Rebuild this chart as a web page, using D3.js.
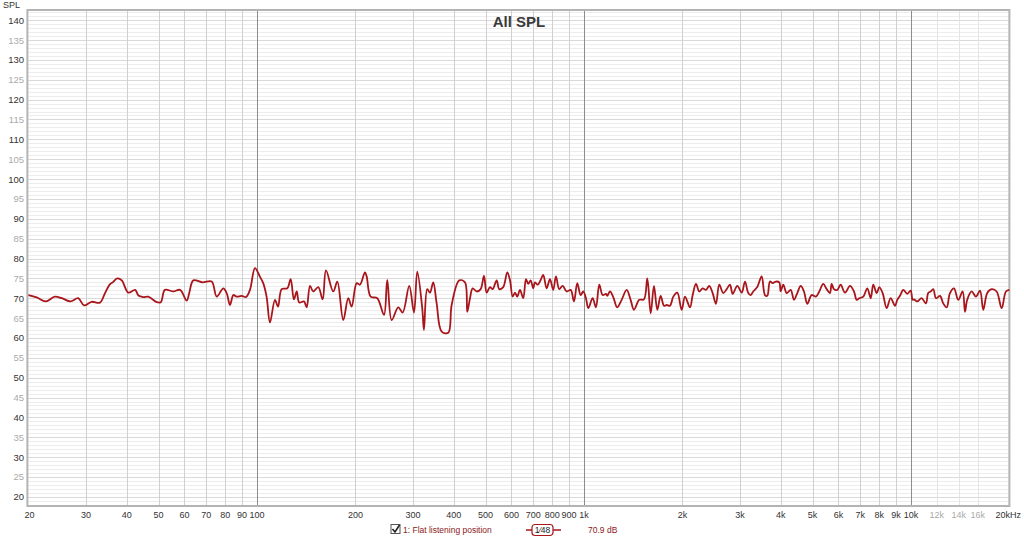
<!DOCTYPE html>
<html>
<head>
<meta charset="utf-8">
<script src="https://cdn.jsdelivr.net/npm/d3@7"></script>
<style>
body { margin: 0; background: #fff; }
text { font-family: "Liberation Sans", Arial, sans-serif; }
</style>
</head>
<body>
<div class="chart"></div>
<script>
// measured response, 1/48 oct smoothing (freq Hz, dB SPL)
var freqs = [20, 21.2, 22.6, 24.1, 25.3, 26.9, 28.4, 29.6, 31.2, 33.1, 34.3, 35.5, 36.2, 37.4, 38.6, 40.4, 42.4, 43.4, 44.9, 46.5,
  49.4, 50.8, 52.3, 55.5, 58.2, 61, 62.1, 63.9, 68.2, 72.7, 75.3, 78.9, 80.8, 82.7, 84.7, 86.7, 89.8, 92.6, 95.2, 98.6,
  102, 104.5, 107, 109.6, 113.5, 116, 119, 123.8, 126.8, 129.7, 132.3, 134.7, 139.2, 141.9, 145.3, 148.6, 154, 158.8, 162.6, 171.1,
  176.1, 183.6, 190.2, 194.8, 201.8, 206.5, 213.9, 216.5, 222.7, 233.3, 244.6, 250.3, 258.2, 270.4, 279, 292.2, 302.1, 309.2, 320.2, 324.1,
  331.7, 338.1, 346, 354.4, 367.1, 384.6, 393.9, 415.6, 432.6, 439.7, 448.2, 456.7, 469.8, 483.2, 494.6, 504, 515.9, 525.8, 540.8, 550.8,
  566.5, 582.7, 593.9, 605.3, 615.2, 625.2, 637.3, 652.3, 664.7, 675.6, 687.1, 699.8, 708.2, 721.8, 737.2, 750.7, 768.9, 787, 805.5, 821,
  840.3, 860.7, 885.4, 910.7, 932, 953.9, 977, 995.1, 1014, 1031, 1063, 1088, 1114, 1141, 1168, 1178, 1201, 1229, 1264, 1304,
  1351, 1389, 1422, 1476, 1526, 1562, 1600, 1637, 1676, 1716, 1757, 1790, 1832, 1876, 1929, 1990, 2037, 2110, 2150, 2201,
  2252, 2307, 2361, 2416, 2475, 2533, 2593, 2667, 2732, 2796, 2850, 2944, 3036, 3108, 3180, 3235, 3294, 3388, 3494, 3577,
  3636, 3705, 3776, 3865, 3956, 3995, 4069, 4168, 4287, 4388, 4491, 4600, 4708, 4818, 4969, 5122, 5243, 5392, 5523, 5653,
  5721, 5814, 5951, 6095, 6283, 6509, 6695, 6823, 6950, 7147, 7353, 7531, 7669, 7855, 8000, 8193, 8427, 8668, 8935, 9082,
  9256, 9474, 9743, 9977, 10120, 10210, 10450, 10780, 11110, 11290, 11490, 11700, 11930, 12270, 12550, 12860, 13160, 13540, 13950, 14390,
  14630, 14860, 15330, 15800, 16260, 16640, 17110, 17650, 18280, 18940, 19520, 20000];
var spl = [70.8, 70.2, 69.2, 70.4, 70, 69.2, 70, 68.2, 69.1, 68.9, 71.3, 73.5, 74, 75, 74.5, 71.4, 72.1, 70.7, 70.3, 70.4,
  69, 69, 72.1, 71.7, 72.1, 69.4, 71.4, 74.5, 74, 74.2, 70.4, 72.5, 71.3, 68.3, 70.8, 70.4, 70.6, 70.3, 72.1, 77.6,
  75.5, 73.8, 70.4, 63.9, 69.6, 67.9, 72.3, 72.5, 74.8, 69.7, 71.7, 68.9, 69.2, 67.7, 73.1, 71.7, 72.8, 69.7, 77, 71.7,
  74.2, 64.5, 70, 67.9, 73.8, 73.4, 76.5, 75.5, 70.4, 70, 65.8, 74.6, 64.5, 67.7, 66.4, 73.1, 66.4, 76.7, 67.5, 62,
  72.3, 71.4, 74, 68.7, 61.6, 61.3, 68.3, 74.5, 74, 66.6, 70, 72.5, 71.7, 72.3, 75.6, 71.4, 72.8, 72.3, 74.5, 72.3,
  72.8, 76.5, 74.6, 70.4, 71.4, 70.4, 72.1, 70, 74.8, 73.6, 74.5, 72.5, 74, 73.4, 74.6, 75.9, 72.5, 74.8, 72.1, 75.5,
  72.3, 73.1, 71.7, 72.1, 69.2, 73.8, 70.8, 71.7, 70, 67.5, 70, 67.7, 73.4, 70.8, 71.1, 70.6, 71.7, 70.3, 67.7, 69.6,
  72.1, 69.6, 67.1, 69.6, 69.7, 75, 66.2, 73.1, 67.1, 70.6, 68.1, 68.3, 68.1, 70.4, 71.4, 67.1, 70.4, 67.7, 70.8, 73.6,
  71.7, 72.5, 72.1, 73.1, 71.3, 68.6, 73.4, 71.3, 72.3, 73.4, 71.1, 73.1, 71.4, 74.2, 71.3, 70.8, 71.7, 72.8, 75.5, 70.8,
  70.6, 74.2, 73.8, 74.2, 74, 71.7, 73.4, 71.3, 72.1, 69.6, 71.3, 73.1, 71.7, 68.6, 70.8, 70.4, 71.7, 73.6, 72.3, 71.3,
  73.6, 72.3, 72.1, 73.4, 71.4, 73.1, 71.7, 69.6, 70, 70.4, 72.5, 70, 73.4, 71.3, 72.8, 71.3, 67.5, 70, 68.1, 69.6,
  70.6, 72.1, 71.1, 71.9, 69.6, 69.7, 69.2, 70, 68.7, 71.3, 71.7, 72.3, 70, 70.6, 68.7, 67.7, 71.3, 72.5, 69.6, 71.7,
  66.6, 69.6, 71.7, 70.4, 71.9, 67.1, 71.3, 72.3, 71.7, 67.5, 71.7, 72.1, 68.7, 71.4, 72.3];

var yTicks = [20, 25, 30, 35, 40, 45, 50, 55, 60, 65, 70, 75, 80, 85, 90, 95, 100, 105, 110, 115, 120, 125, 130, 135, 140];
var xTicks = [20, 30, 40, 50, 60, 70, 80, 90, 100, 200, 300, 400, 500, 600, 700, 800, 900, 1000, 2000, 3000, 4000, 5000, 6000, 7000, 8000, 9000, 10000, 12000, 14000, 16000, 20000];
var xTickLabels = ["20", "30", "40", "50", "60", "70", "80", "90", "100", "200", "300", "400", "500", "600", "700", "800", "900", "1k", "2k", "3k", "4k", "5k", "6k", "7k", "8k", "9k", "10k", "12k", "14k", "16k", "20kHz"];
var faintX = [12000, 14000, 16000];
var decades = [100, 1000, 10000];

var width = 1024, height = 540
    , margin = {top: 11, right: 14, bottom: 34, left: 28};

var svg = d3.select(".chart").append("svg")
    .attr("width", width)
    .attr("height", height);

var x = d3.scaleLog()
    .domain([20, 20000])
    .range([margin.left + 0.4, width - margin.right - 0.6]);

var y = d3.scaleLinear()
    .domain([17.7, 142.3])
    .range([height - margin.bottom, margin.top]);

var g = svg.append("g");

// minor horizontal grid, 1 dB
g.append("g")
    .selectAll("line")
    .data(d3.range(18, 143))
    .enter().append("line")
    .attr("x1", x(20)).attr("x2", x(20000))
    .attr("y1", d => Math.round(y(d)) + 0.5).attr("y2", d => Math.round(y(d)) + 0.5)
    .attr("stroke", d => d % 5 == 0 ? "#d9d9d9" : "#ededed")
    .attr("stroke-width", 1);

// vertical grid
g.append("g")
    .selectAll("line")
    .data(xTicks.slice(1, -1))
    .enter().append("line")
    .attr("x1", d => Math.round(x(d)) + 0.5).attr("x2", d => Math.round(x(d)) + 0.5)
    .attr("y1", y.range()[1]).attr("y2", y.range()[0])
    .attr("stroke", d => decades.indexOf(d) >= 0 ? "#8c8c8c" : (faintX.indexOf(d) >= 0 ? "#e4e4e4" : "#d0d0d0"))
    .attr("stroke-width", 1);

// frame
g.append("rect")
    .attr("x", x.range()[0] - 1)
    .attr("y", y.range()[1] - 1)
    .attr("width", x.range()[1] - x.range()[0] + 1)
    .attr("height", y.range()[0] - y.range()[1] + 1)
    .attr("fill", "none")
    .attr("stroke", "#b4b4b4")
    .attr("stroke-width", 2);

// axes as plain text labels
g.append("g")
    .selectAll("text")
    .data(yTicks)
    .enter().append("text")
    .attr("x", 24)
    .attr("y", d => y(d) + 3.5)
    .attr("text-anchor", "end")
    .attr("font-size", 9.5)
    .attr("fill", d => d % 10 == 0 ? "#333" : "#aaa")
    .text(d => d);

g.append("g")
    .selectAll("text")
    .data(xTicks)
    .enter().append("text")
    .attr("x", (d, i) => i == 0 ? x(d) + 1 : (i == xTicks.length - 1 ? 1021 : x(d)))
    .attr("y", 518)
    .attr("text-anchor", (d, i) => i == xTicks.length - 1 ? "end" : "middle")
    .attr("font-size", 9)
    .attr("fill", d => faintX.indexOf(d) >= 0 ? "#aaa" : "#333")
    .text((d, i) => xTickLabels[i]);

svg.append("text")
    .attr("x", 3).attr("y", 8)
    .attr("font-size", 9)
    .attr("fill", "#333")
    .text("SPL");

svg.append("text")
    .attr("x", 519).attr("y", 27)
    .attr("text-anchor", "middle")
    .attr("font-size", 15)
    .attr("font-weight", "bold")
    .attr("fill", "#3a3a3a")
    .text("All SPL");

// response curve
var line = d3.line()
    .x((d, i) => x(freqs[i]))
    .y(d => y(d))
    .curve(d3.curveCatmullRom.alpha(0.5));

g.append("path")
    .datum(spl)
    .attr("fill", "none")
    .attr("stroke", "#a8161c")
    .attr("stroke-width", 1.8)
    .attr("stroke-linejoin", "round")
    .attr("d", line);

// legend
var lg = svg.append("g").attr("transform", "translate(0,530)");
lg.append("rect")
    .attr("x", 391).attr("y", -5.5).attr("width", 9).attr("height", 9)
    .attr("fill", "#fff").attr("stroke", "#555");
lg.append("path")
    .attr("d", "M392.5,-1 L395,2 L399.5,-5")
    .attr("fill", "none").attr("stroke", "#222").attr("stroke-width", 1.6);
lg.append("text")
    .attr("x", 403).attr("y", 3)
    .attr("font-size", 8.5)
    .attr("fill", "#8b2020")
    .text("1: Flat listening position");
lg.append("line")
    .attr("x1", 526).attr("x2", 561).attr("y1", 0).attr("y2", 0)
    .attr("stroke", "#a8161c").attr("stroke-width", 1.5);
lg.append("rect")
    .attr("x", 532).attr("y", -5.5).attr("width", 21).attr("height", 11).attr("rx", 3)
    .attr("fill", "#fff").attr("stroke", "#a8161c").attr("stroke-width", 1.2);
lg.append("text")
    .attr("x", 542.5).attr("y", 3)
    .attr("text-anchor", "middle")
    .attr("font-size", 8.5)
    .attr("fill", "#222")
    .text("1⁄48");
lg.append("text")
    .attr("x", 588).attr("y", 3)
    .attr("font-size", 8.5)
    .attr("fill", "#8b2020")
    .text("70.9 dB");
</script>
</body>
</html>
